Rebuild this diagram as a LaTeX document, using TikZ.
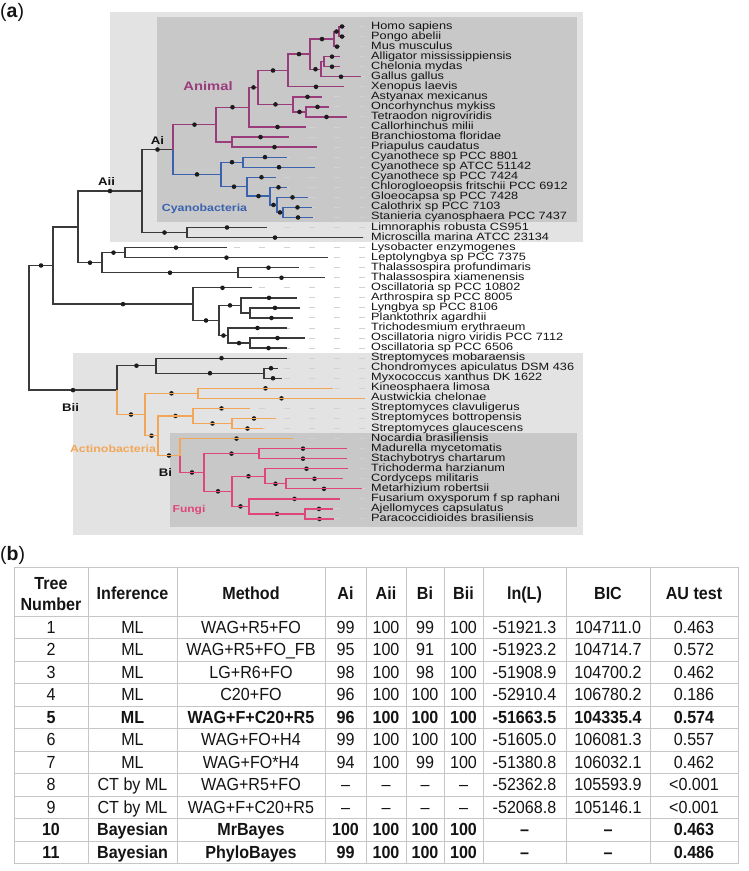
\documentclass[tikz,border=0pt]{standalone}
\usepackage{fontspec}
\setmainfont{Liberation Sans}
\newfontfamily\tipfont[FakeStretch=1.2]{Liberation Sans}
\newfontfamily\tabfont[FakeStretch=0.92]{Liberation Sans}
\usetikzlibrary{calc}
\pgfdeclarelayer{dotl}
\pgfdeclarelayer{topl}
\pgfsetlayers{main,dotl,topl}
\definecolor{lightbox}{HTML}{E3E3E3}
\definecolor{darkbox}{HTML}{C8C8C8}
\definecolor{blk}{HTML}{3A3A3A}
\definecolor{pur}{HTML}{9A3B7C}
\definecolor{blu}{HTML}{3A62AE}
\definecolor{org}{HTML}{F2A657}
\definecolor{pnk}{HTML}{E0457B}
\definecolor{dotc}{HTML}{1C1C1C}
\definecolor{guidec}{HTML}{D2D2D2}
\definecolor{gridc}{HTML}{C6C6C6}
\definecolor{txt}{HTML}{141414}
\newcommand\cladefont[1]{\tipfont\bfseries\fontsize{#1}{#1}\selectfont}
\newcommand\mytip[4]{%
  \pgfmathsetmacro\tipy{26.5+10.05*#2}%
  \coordinate (#1) at (#3,\tipy);
  \draw[guide] (365,\tipy) -- (#1);
  \node[tiplab] (L#1) at (371,\tipy+2.5) {#4};}
\newcommand\edgeD[3]{\draw[#1] (#2) |- (#3);
  \begin{pgfonlayer}{dotl}\fill[dotc] ($(#2|-#3)!0.5!(#3)$) circle[radius=2.3pt];\end{pgfonlayer}}
\newcommand\edgeN[3]{\draw[#1] (#2) |- (#3);}
\newcommand\edgeO[3]{\begin{pgfonlayer}{topl}\draw[#1] (#2) |- (#3);\end{pgfonlayer}
  \begin{pgfonlayer}{dotl}\fill[dotc] ($(#2|-#3)!0.5!(#3)$) circle[radius=2.3pt];\end{pgfonlayer}}
\def\colxs{{51,132.5,251,345.5,386,425,463.5,524.5,608,694}}
\newcommand\tabrow[3]{%
  \pgfmathsetmacro\rowy{616+22.5*(#1-0.5)+6.2}%
  \foreach \celltext [count=\c] in {#3}{%
    \pgfmathsetmacro\cellx{\colxs[\c-1]}%
    \node[cell,#2] (r#1c\c) at (\cellx,\rowy) {\celltext};}}
\begin{document}
\begin{tikzpicture}[x=1pt,y=-1pt,
  guide/.style={draw=guidec,line width=1pt,dash pattern=on 6pt off 19pt},
  tiplab/.style={anchor=base west,inner sep=0pt,text=txt,font=\tipfont\fontsize{10.6}{10.6}\selectfont},
  eb/.style={draw=blk,line width=1.3pt},
  ep/.style={draw=pur,line width=1.3pt},
  eu/.style={draw=blu,line width=1.3pt},
  eo/.style={draw=org,line width=1.3pt},
  ek/.style={draw=pnk,line width=1.3pt},
  clab/.style={anchor=base,inner sep=0pt},
  cell/.style={anchor=base,inner sep=0pt,text=txt,font=\tabfont\fontsize{17.5}{20}\selectfont},
  tb/.style={font=\tabfont\bfseries\fontsize{17.5}{20}\selectfont},
  gridl/.style={draw=gridc,line width=1pt}]
\useasboundingbox (0,0) rectangle (749,871);
\fill[white] (0,0) rectangle (749,871);
% boxes
\fill[lightbox] (110,12) rectangle (583,242);
\fill[darkbox] (157,17) rectangle (577,222);
\fill[lightbox] (73,353) rectangle (583,535);
\fill[darkbox] (170,433) rectangle (577,527);
% tips
\mytip{homo}{0}{345}{Homo sapiens}
\mytip{pongo}{1}{345}{Pongo abelii}
\mytip{mus}{2}{340}{Mus musculus}
\mytip{alli}{3}{340}{Alligator mississippiensis}
\mytip{chel}{4}{340}{Chelonia mydas}
\mytip{gallus}{5}{361}{Gallus gallus}
\mytip{xeno}{6}{344}{Xenopus laevis}
\mytip{asty}{7}{322}{Astyanax mexicanus}
\mytip{onco}{8}{329}{Oncorhynchus mykiss}
\mytip{tetra}{9}{347}{Tetraodon nigroviridis}
\mytip{callo}{10}{306}{Callorhinchus milii}
\mytip{bran}{11}{289}{Branchiostoma floridae}
\mytip{priap}{12}{317}{Priapulus caudatus}
\mytip{cya1}{13}{287}{Cyanothece sp PCC 8801}
\mytip{cya2}{14}{315}{Cyanothece sp ATCC 51142}
\mytip{cya3}{15}{276}{Cyanothece sp PCC 7424}
\mytip{chlo}{16}{287}{Chlorogloeopsis fritschii PCC 6912}
\mytip{gloe}{17}{308}{Gloeocapsa sp PCC 7428}
\mytip{calo}{18}{312}{Calothrix sp PCC 7103}
\mytip{stan}{19}{313}{Stanieria cyanosphaera PCC 7437}
\mytip{limn}{20}{267}{Limnoraphis robusta CS951}
\mytip{micr}{21}{363}{Microscilla marina ATCC 23134}
\mytip{lyso}{22}{227}{Lysobacter enzymogenes}
\mytip{lept}{23}{328}{Leptolyngbya sp PCC 7375}
\mytip{tpro}{24}{299}{Thalassospira profundimaris}
\mytip{txia}{25}{325}{Thalassospira xiamenensis}
\mytip{osca}{26}{252}{Oscillatoria sp PCC 10802}
\mytip{arth}{27}{297}{Arthrospira sp PCC 8005}
\mytip{lyng}{28}{300}{Lyngbya sp PCC 8106}
\mytip{plan}{29}{293}{Planktothrix agardhii}
\mytip{tric}{30}{287}{Trichodesmium erythraeum}
\mytip{oscb}{31}{305}{Oscillatoria nigro viridis PCC 7112}
\mytip{oscc}{32}{287}{Oscillatoria sp PCC 6506}
\mytip{smob}{33}{287}{Streptomyces mobaraensis}
\mytip{chon}{34}{278}{Chondromyces apiculatus DSM 436}
\mytip{myxo}{35}{282}{Myxococcus xanthus DK 1622}
\mytip{kine}{36}{333}{Kineosphaera limosa}
\mytip{aust}{37}{365}{Austwickia chelonae}
\mytip{scla}{38}{250}{Streptomyces clavuligerus}
\mytip{sbot}{39}{276}{Streptomyces bottropensis}
\mytip{sgla}{40}{263}{Streptomyces glaucescens}
\mytip{noca}{41}{293}{Nocardia brasiliensis}
\mytip{madu}{42}{347}{Madurella mycetomatis}
\mytip{stac}{43}{347}{Stachybotrys chartarum}
\mytip{thar}{44}{348}{Trichoderma harzianum}
\mytip{cord}{45}{343}{Cordyceps militaris}
\mytip{meta}{46}{362}{Metarhizium robertsii}
\mytip{fusa}{47}{340}{Fusarium oxysporum f sp raphani}
\mytip{ajel}{48}{333}{Ajellomyces capsulatus}
\mytip{para}{49}{334}{Paracoccidioides brasiliensis}
% internal nodes
\coordinate (HP) at (339,31.53);
\coordinate (HPM) at (334,39.06);
\coordinate (AC) at (324,61.68);
\coordinate (ACG) at (321,69.2);
\coordinate (AMN) at (310,54.13);
\coordinate (TETP) at (288,70.47);
\coordinate (OT) at (306,111.93);
\coordinate (FISH) at (293,104.39);
\coordinate (OST) at (258,87.43);
\coordinate (GNA) at (249,107.2);
\coordinate (BP) at (232,142.08);
\coordinate (BIL) at (216,124.64);
\coordinate (CC) at (243,162.18);
\coordinate (CS) at (283,212.43);
\coordinate (GCS) at (277,204.89);
\coordinate (CHG) at (270,196.1);
\coordinate (CL) at (247,186.68);
\coordinate (CYN) at (221,174.43);
\coordinate (AI) at (173,149.54);
\coordinate (LM) at (187,232.53);
\coordinate (AII) at (142,191.03);
\coordinate (LL) at (125,252.63);
\coordinate (TT) at (238,272.73);
\coordinate (LLTT) at (102,262.68);
\coordinate (NA) at (78,226.86);
\coordinate (LP) at (250,312.93);
\coordinate (ALP) at (241,305.39);
\coordinate (OO) at (250,343.08);
\coordinate (TOO) at (228,335.54);
\coordinate (OAT) at (219,320.47);
\coordinate (OSC) at (193,304.14);
\coordinate (NB) at (53,265.5);
\coordinate (CM) at (264,373.23);
\coordinate (SCM) at (156,365.69);
\coordinate (KA) at (198,393.33);
\coordinate (BG) at (232,423.48);
\coordinate (SS) at (193,415.94);
\coordinate (MS) at (259,453.63);
\coordinate (CME) at (286,483.78);
\coordinate (TCM) at (265,476.24);
\coordinate (AP) at (305,513.93);
\coordinate (FAP) at (249,506.39);
\coordinate (TF) at (232,491.32);
\coordinate (FUN) at (204,472.48);
\coordinate (BI) at (180,455.52);
\coordinate (SSBI) at (158,435.73);
\coordinate (ACT) at (145,414.53);
\coordinate (BII) at (117,390.11);
\coordinate (ROOT) at (29,327.8);
% black edges
\edgeD{eb}{ROOT}{NB}
\edgeN{eb}{NB}{NA}
\edgeD{eb}{NA}{AII}
\edgeD{eb}{AII}{AI}
\edgeD{eb}{AII}{LM}
\edgeD{eb}{LM}{limn}
\edgeD{eb}{LM}{micr}
\edgeD{eb}{NA}{LLTT}
\edgeD{eb}{LLTT}{LL}
\edgeD{eb}{LL}{lyso}
\edgeD{eb}{LL}{lept}
\edgeD{eb}{LLTT}{TT}
\edgeD{eb}{TT}{tpro}
\edgeD{eb}{TT}{txia}
\edgeD{eb}{NB}{OSC}
\edgeD{eb}{OSC}{osca}
\edgeD{eb}{OSC}{OAT}
\edgeD{eb}{OAT}{ALP}
\edgeD{eb}{ALP}{arth}
\edgeN{eb}{ALP}{LP}
\edgeD{eb}{LP}{lyng}
\edgeD{eb}{LP}{plan}
\edgeD{eb}{OAT}{TOO}
\edgeD{eb}{TOO}{tric}
\edgeD{eb}{TOO}{OO}
\edgeD{eb}{OO}{oscb}
\edgeD{eb}{OO}{oscc}
\edgeD{eb}{ROOT}{BII}
\edgeD{eb}{BII}{SCM}
\edgeD{eb}{SCM}{smob}
\edgeD{eb}{SCM}{CM}
\edgeD{eb}{CM}{chon}
\edgeD{eb}{CM}{myxo}
% purple edges
\edgeD{ep}{AI}{BIL}
\edgeD{ep}{BIL}{GNA}
\edgeN{ep}{BIL}{BP}
\edgeD{ep}{BP}{bran}
\edgeD{ep}{BP}{priap}
\edgeD{ep}{GNA}{OST}
\edgeD{ep}{GNA}{callo}
\edgeD{ep}{OST}{TETP}
\edgeD{ep}{OST}{FISH}
\edgeD{ep}{TETP}{AMN}
\edgeD{ep}{TETP}{xeno}
\edgeD{ep}{AMN}{HPM}
\edgeD{ep}{AMN}{ACG}
\edgeD{ep}{HPM}{HP}
\edgeD{ep}{HPM}{mus}
\edgeD{ep}{HP}{homo}
\edgeD{ep}{HP}{pongo}
\edgeN{ep}{ACG}{AC}
\edgeD{ep}{ACG}{gallus}
\edgeD{ep}{AC}{alli}
\edgeD{ep}{AC}{chel}
\edgeD{ep}{FISH}{asty}
\edgeD{ep}{FISH}{OT}
\edgeD{ep}{OT}{onco}
\edgeD{ep}{OT}{tetra}
% blue edges
\edgeD{eu}{AI}{CYN}
\edgeD{eu}{CYN}{CC}
\edgeD{eu}{CC}{cya1}
\edgeD{eu}{CC}{cya2}
\edgeD{eu}{CYN}{CL}
\edgeD{eu}{CL}{cya3}
\edgeD{eu}{CL}{CHG}
\edgeD{eu}{CHG}{chlo}
\edgeD{eu}{CHG}{GCS}
\edgeD{eu}{GCS}{gloe}
\edgeD{eu}{GCS}{CS}
\edgeD{eu}{CS}{calo}
\edgeD{eu}{CS}{stan}
% orange edges
\edgeO{eo}{BII}{ACT}
\edgeO{eo}{ACT}{KA}
\edgeO{eo}{KA}{kine}
\edgeO{eo}{KA}{aust}
\edgeO{eo}{ACT}{SSBI}
\edgeO{eo}{SSBI}{SS}
\edgeO{eo}{SS}{scla}
\edgeO{eo}{SS}{BG}
\edgeO{eo}{BG}{sbot}
\edgeO{eo}{BG}{sgla}
\edgeO{eo}{SSBI}{BI}
\edgeO{eo}{BI}{noca}
% pink edges
\edgeO{ek}{BI}{FUN}
\edgeO{ek}{FUN}{MS}
\edgeO{ek}{MS}{madu}
\edgeO{ek}{MS}{stac}
\edgeO{ek}{FUN}{TF}
\edgeO{ek}{TF}{TCM}
\edgeO{ek}{TCM}{thar}
\edgeO{ek}{TCM}{CME}
\edgeO{ek}{CME}{cord}
\edgeO{ek}{CME}{meta}
\edgeO{ek}{TF}{FAP}
\edgeO{ek}{FAP}{fusa}
\edgeO{ek}{FAP}{AP}
\edgeO{ek}{AP}{ajel}
\edgeO{ek}{AP}{para}
% clade labels
\node[clab,text=pur,font=\cladefont{12.3}] (labAnimal) at (208,90.4) {Animal};
\node[clab,text=blu,font=\cladefont{10.3}] (labCyano) at (204.5,211.6) {Cyanobacteria};
\node[clab,text=org,font=\cladefont{10.3}] (labActino) at (113,452.6) {Actinobacteria};
\node[clab,text=pnk,font=\cladefont{10}] (labFungi) at (189,512.4) {Fungi};
\node[clab,text=txt,font=\cladefont{11}] (labAi) at (157.5,144) {Ai};
\node[clab,text=txt,font=\cladefont{11}] (labAii) at (106.5,185) {Aii};
\node[clab,text=txt,font=\cladefont{11}] (labBii) at (70.5,411) {Bii};
\node[clab,text=txt,font=\cladefont{11}] (labBi) at (165.5,476) {Bi};
% panel labels
\node[anchor=base west,inner sep=0pt,text=txt,font=\fontsize{19.5}{22}\selectfont] (panelA) at (0,17.5) {(\textbf{a})};
\node[anchor=base west,inner sep=0pt,text=txt,font=\fontsize{19.5}{22}\selectfont] (panelB) at (0,560.5) {(\textbf{b})};
% table grid
\draw[gridl] (14,567) -- (738,567);
\foreach \k in {0,...,11} \draw[gridl] (14,{616+22.5*\k}) -- (738,{616+22.5*\k});
\foreach \xx in {14,88,177,325,366,406,444,483,566,650,738} \draw[gridl] (\xx,567) -- (\xx,863.5);
% header
\node[cell,tb] (hTree) at (51,589) {Tree};
\node[cell,tb] (hNum) at (51,610) {Number};
\node[cell,tb] (hInf) at (132.5,599) {Inference};
\node[cell,tb] (hMet) at (251,599) {Method};
\node[cell,tb] (hAi) at (345.5,599) {Ai};
\node[cell,tb] (hAii) at (386,599) {Aii};
\node[cell,tb] (hBi) at (425,599) {Bi};
\node[cell,tb] (hBii) at (463.5,599) {Bii};
\node[cell,tb] (hLn) at (524.5,599) {ln(L)};
\node[cell,tb] (hBic) at (608,599) {BIC};
\node[cell,tb] (hAu) at (694,599) {AU test};
% rows
\tabrow{1}{}{1,ML,WAG+R5+FO,99,100,99,100,-51921.3,104711.0,0.463}
\tabrow{2}{}{2,ML,WAG+R5+FO\_FB,95,100,91,100,-51923.2,104714.7,0.572}
\tabrow{3}{}{3,ML,LG+R6+FO,98,100,98,100,-51908.9,104700.2,0.462}
\tabrow{4}{}{4,ML,C20+FO,96,100,100,100,-52910.4,106780.2,0.186}
\tabrow{5}{tb}{5,ML,WAG+F+C20+R5,96,100,100,100,-51663.5,104335.4,0.574}
\tabrow{6}{}{6,ML,WAG+FO+H4,99,100,100,100,-51605.0,106081.3,0.557}
\tabrow{7}{}{7,ML,WAG+FO*H4,94,100,99,100,-51380.8,106032.1,0.462}
\tabrow{8}{}{8,CT by ML,WAG+R5+FO,–,–,–,–,-52362.8,105593.9,<0.001}
\tabrow{9}{}{9,CT by ML,WAG+F+C20+R5,–,–,–,–,-52068.8,105146.1,<0.001}
\tabrow{10}{tb}{10,Bayesian,MrBayes,100,100,100,100,–,–,0.463}
\tabrow{11}{tb}{11,Bayesian,PhyloBayes,99,100,100,100,–,–,0.486}
\end{tikzpicture}
\end{document}
